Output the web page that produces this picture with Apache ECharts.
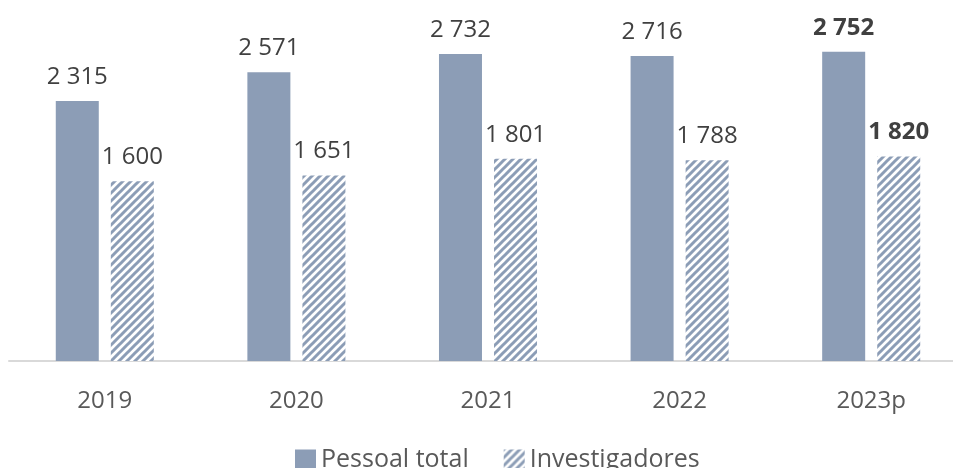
<!DOCTYPE html>
<html>
<head>
<meta charset="utf-8">
<script src="https://cdn.jsdelivr.net/npm/echarts@6/dist/echarts.min.js"></script>
<style>
  html, body { margin: 0; padding: 0; background: #fff; overflow: hidden; }
  #chart { width: 967px; height: 468px; }
</style>
</head>
<body>
<div id="chart"></div>
<script>
// dados
const years = ['2019', '2020', '2021', '2022', '2023p'];
const pessoalTotal = [2315, 2571, 2732, 2716, 2752];
const investigadores = [1600, 1651, 1801, 1788, 1820];

const barColor = '#8C9DB6';

// padrão tracejado diagonal para os investigadores
function makeHatch() {
    const size = 8;
    const c = document.createElement('canvas');
    c.width = size;
    c.height = size;
    const ctx = c.getContext('2d');
    ctx.fillStyle = '#fff';
    ctx.fillRect(0, 0, size, size);
    ctx.strokeStyle = barColor;
    ctx.lineWidth = 3;
    ctx.beginPath();
    ctx.moveTo(-1, size + 1); ctx.lineTo(size + 1, -1);
    ctx.moveTo(-2, 2); ctx.lineTo(2, -2);
    ctx.moveTo(size - 2, size + 2); ctx.lineTo(size + 2, size - 2);
    ctx.stroke();
    return c;
}
const hatch = { image: makeHatch(), repeat: 'repeat' };

function fmt(v) {
    return String(v).replace(/\B(?=(\d{3})+(?!\d))/g, ' ');
}

function withBoldLast(arr) {
    return arr.map((v, i) => i === arr.length - 1
        ? { value: v, label: { fontWeight: 'bold' } }
        : v);
}

// o gráfico é mais largo que a janela: a última categoria fica cortada à direita
const chart = echarts.init(document.getElementById('chart'));
chart.setOption({
    animation: false,
    textStyle: { fontFamily: 'Open Sans' },
    grid: { left: 9, right: 0, top: 24, bottom: 107 },
    legend: {
        bottom: -9,
        left: 290,
        icon: 'rect',
        itemWidth: 21,
        itemHeight: 20,
        itemGap: 35,
        textStyle: { fontSize: 25, color: '#595959', fontFamily: 'Open Sans' },
        data: ['Pessoal total', 'Investigadores']
    },
    xAxis: {
        type: 'category',
        data: years,
        axisTick: { show: false },
        axisLine: { lineStyle: { color: '#D9D9D9', width: 2 } },
        axisLabel: { color: '#595959', fontSize: 24, margin: 28 }
    },
    yAxis: {
        type: 'value',
        min: 0,
        max: 3000,
        show: false,
        splitLine: { show: false }
    },
    series: [
        {
            name: 'Pessoal total',
            type: 'bar',
            barWidth: 43,
            barGap: '28%',
            itemStyle: { color: barColor },
            label: {
                show: true,
                position: 'top',
                distance: 12,
                color: '#404040',
                fontSize: 24,
                formatter: p => fmt(p.value)
            },
            data: withBoldLast(pessoalTotal)
        },
        {
            name: 'Investigadores',
            type: 'bar',
            barWidth: 43,
            itemStyle: { color: hatch },
            label: {
                show: true,
                position: 'top',
                distance: 12,
                color: '#404040',
                fontSize: 24,
                formatter: p => fmt(p.value)
            },
            data: withBoldLast(investigadores)
        }
    ]
});
</script>
</body>
</html>
